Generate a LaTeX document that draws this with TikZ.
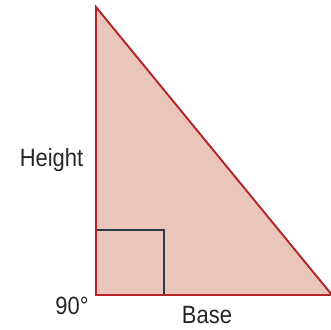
\documentclass[tikz,border=0pt]{standalone}
\usepackage{fontspec}
\setmainfont[FakeStretch=0.88]{Liberation Sans}
\definecolor{trifill}{HTML}{E9C6B9}
\definecolor{triedge}{HTML}{B5242A}
\definecolor{markline}{HTML}{2B3A45}
\begin{document}
\begin{tikzpicture}[font=\fontsize{14.2}{17}\selectfont,
  label/.style={inner sep=0pt, anchor=base, text=black!85}]
  \useasboundingbox (0,0) rectangle (6.62,6.58);
  % vertices
  \coordinate (A) at (1.92,6.44); % top
  \coordinate (C) at (1.92,0.68); % right angle
  \coordinate (B) at (6.64,0.68); % right end of base

  \fill[trifill] (A) -- (C) -- (B) -- cycle;

  % right angle mark
  \draw[markline, line width=1.1pt] (1.92,1.98) -- (3.28,1.98) -- (3.28,0.68);

  \draw[triedge, line width=1.1pt, line join=miter] (A) -- (C) -- (B) -- cycle;

  % labels
  \node[label] (height) at (1.03,3.25) {Height};
  \node[label] (angle) at (1.44,0.30) {90°};
  \node[label] (base) at (4.14,0.12) {Base};
\end{tikzpicture}
\end{document}
